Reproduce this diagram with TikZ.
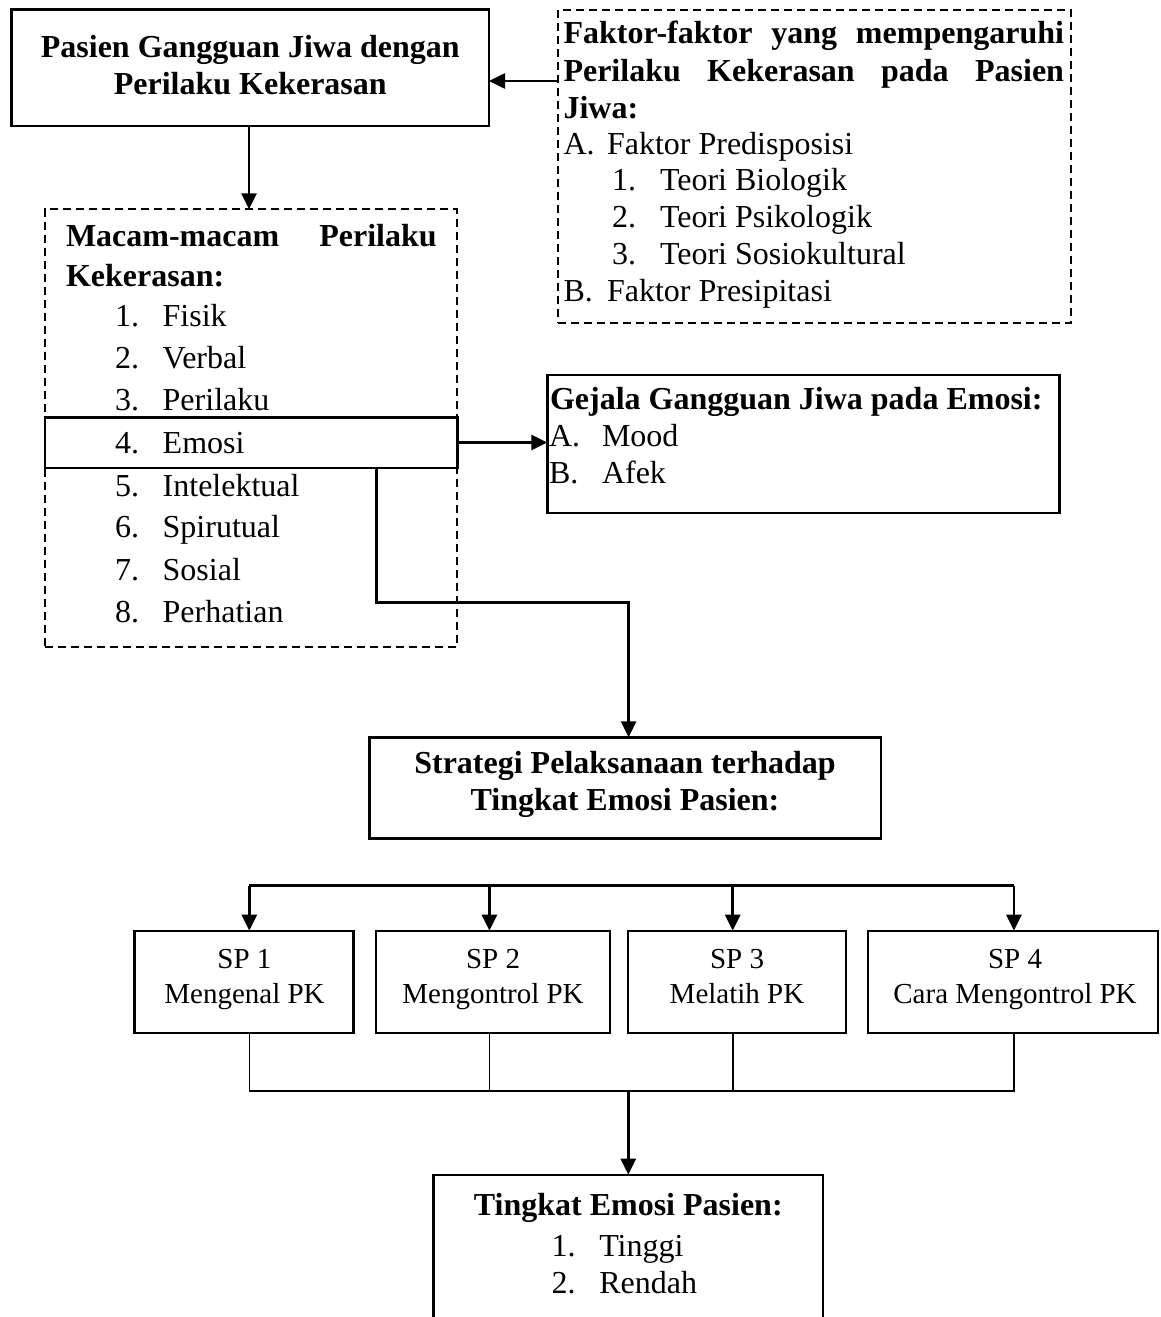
\documentclass[tikz,border=0pt]{standalone}
\usepackage{fontspec}
\setmainfont{Liberation Serif}
\usetikzlibrary{arrows.meta,calc}
\newcommand\mysize{\fontsize{32}{36.8}\selectfont}
\newcommand\spsize{\fontsize{29}{35}\selectfont}
\tikzset{
  every node/.style={inner sep=0pt, outer sep=0pt, font=\mysize},
  solidbox/.style={draw, line width=2.4pt, rectangle},
  dashbox/.style={draw, line width=1.9pt, dash pattern=on 8pt off 5pt, rectangle},
  arr/.style={line width=2.6pt, -{Triangle[length=16pt,width=15pt]}},
  thinline/.style={line width=1.6pt},
  txt/.style={anchor=base west},
  ctxt/.style={anchor=base},
}
\begin{document}
\begin{tikzpicture}[x=1pt,y=-1pt]
\useasboundingbox (0,0) rectangle (1161,1317);
\fill[white] (0,0) rectangle (1161,1317);

% ---------- boxes ----------
\node[solidbox, minimum width=477.5pt, minimum height=116.7pt] (pasien) at (250.25,67.65) {};
\node[dashbox, minimum width=513pt, minimum height=312.7pt] (faktor) at (814.5,166.35) {};
\node[dashbox, minimum width=412pt, minimum height=437.4pt] (macam) at (251,428) {};
\node[solidbox, minimum width=412.3pt, minimum height=50.4pt] (emosi) at (251.15,442.5) {};
\node[solidbox, minimum width=512.2pt, minimum height=137.7pt] (gejala) at (803.4,443.85) {};
\node[solidbox, minimum width=511.7pt, minimum height=101pt] (strategi) at (625.15,787.8) {};
\node[solidbox, minimum width=218.8pt, minimum height=102pt] (sp1) at (244,981.7) {};
\node[solidbox, minimum width=234pt, minimum height=102pt] (sp2) at (493,981.7) {};
\node[solidbox, minimum width=218pt, minimum height=102pt] (sp3) at (737,981.7) {};
\node[solidbox, minimum width=290pt, minimum height=102pt] (sp4) at (1013,981.7) {};
\node[minimum width=389.4pt, minimum height=142.3pt] (tingkat) at (628,1245.85) {};
\draw[line width=2.4pt] (tingkat.south west) -- (tingkat.north west) -- (tingkat.north east) -- (tingkat.south east);

% ---------- texts: pasien ----------
\node[ctxt] (pa1) at (250.25,57) {\bfseries Pasien Gangguan Jiwa dengan};
\node[ctxt] (pa2) at (250.25,94.5) {\bfseries Perilaku Kekerasan};

% ---------- texts: faktor ----------
\node[txt] (fk1) at (563.5,43.3) {\makebox[500.5pt][s]{\bfseries Faktor-faktor yang mempengaruhi}};
\node[txt] (fk2) at (563.5,81) {\makebox[500.5pt][s]{\bfseries Perilaku Kekerasan pada Pasien}};
\node[txt] (fk3) at (563.5,118.3) {\bfseries Jiwa:};
\node[txt] (fkA) at (563.5,154) {A.};
\node[txt] (fkAt) at (607,154) {Faktor Predisposisi};
\node[txt] (fk1n) at (612,190.7) {1.};
\node[txt] (fk1t) at (660,190.7) {Teori Biologik};
\node[txt] (fk2n) at (612,227.5) {2.};
\node[txt] (fk2t) at (660,227.5) {Teori Psikologik};
\node[txt] (fk3n) at (612,264.3) {3.};
\node[txt] (fk3t) at (660,264.3) {Teori Sosiokultural};
\node[txt] (fkB) at (563.5,301) {B.};
\node[txt] (fkBt) at (607,301) {Faktor Presipitasi};

% ---------- texts: macam ----------
\node[txt] (mc1) at (66,246.7) {\makebox[370.7pt][s]{\bfseries Macam-macam Perilaku}};
\node[txt] (mc2) at (66,286) {\bfseries Kekerasan:};
\foreach \n/\t/\y in {1/Fisik/326.7, 2/Verbal/368.3, 3/Perilaku/410.7, 4/Emosi/453.3, 5/Intelektual/496, 6/Spirutual/537.3, 7/Sosial/580.7, 8/Perhatian/622.7}{
  \node[txt] (mn\n) at (115,\y) {\n.};
  \node[txt] (mt\n) at (162.7,\y) {\t};
}

% ---------- texts: gejala ----------
\node[txt] (gj1) at (550,409.3) {\bfseries Gejala Gangguan Jiwa pada Emosi:};
\node[txt] (gjA) at (549,446) {A.};
\node[txt] (gjAt) at (602,446) {Mood};
\node[txt] (gjB) at (549,483.3) {B.};
\node[txt] (gjBt) at (602,483.3) {Afek};

% ---------- texts: strategi ----------
\node[ctxt] (st1) at (625,773.3) {\bfseries Strategi Pelaksanaan terhadap};
\node[ctxt] (st2) at (625,810) {\bfseries Tingkat Emosi Pasien:};

% ---------- texts: SP ----------
\node[ctxt, font=\spsize] (sp1a) at (244.5,968) {SP 1};
\node[ctxt, font=\spsize] (sp1b) at (244.5,1003) {Mengenal PK};
\node[ctxt, font=\spsize] (sp2a) at (493,968) {SP 2};
\node[ctxt, font=\spsize] (sp2b) at (493,1003) {Mengontrol PK};
\node[ctxt, font=\spsize] (sp3a) at (737,968) {SP 3};
\node[ctxt, font=\spsize] (sp3b) at (737,1003) {Melatih PK};
\node[ctxt, font=\spsize] (sp4a) at (1015,968) {SP 4};
\node[ctxt, font=\spsize] (sp4b) at (1015,1003) {Cara Mengontrol PK};

% ---------- texts: tingkat ----------
\node[ctxt] (tk1) at (628.3,1215) {\bfseries Tingkat Emosi Pasien:};
\node[txt] (tk1n) at (551.7,1256) {1.};
\node[txt] (tk1t) at (599.3,1256) {Tinggi};
\node[txt] (tk2n) at (551.7,1293.3) {2.};
\node[txt] (tk2t) at (599.3,1293.3) {Rendah};

% ---------- connectors ----------
\coordinate (fa) at (558,81);
\draw[arr] (fa) -- (fa -| pasien.east);
\coordinate (pm) at (249,126);
\draw[arr] (pm) -- (pm |- macam.north);
\draw[arr] (emosi.east) -- (emosi.east -| gejala.west);
\coordinate (e1) at (376.7,467.7);
\coordinate (c1) at (628.6,602.7);
\draw[arr] (e1) -- (e1 |- c1) -- (c1) -- (c1 |- strategi.north);

% top bus
\coordinate (b1) at (249.3,885.7);
\coordinate (b2) at (489.4,885.7);
\coordinate (b3) at (732.7,885.7);
\coordinate (b4) at (1013.9,885.7);
\draw[line width=2.6pt] (b1) -- (b4);
\draw[arr] (b1) -- (b1 |- sp1.north);
\draw[arr] (b2) -- (b2 |- sp2.north);
\draw[arr] (b3) -- (b3 |- sp3.north);
\draw[arr] (b4) -- (b4 |- sp4.north);

% bottom bus
\coordinate (d1) at (249.3,1090.7);
\coordinate (d2) at (489.4,1090.7);
\coordinate (d3) at (732.7,1090.7);
\coordinate (d4) at (1013.9,1090.7);
\coordinate (dm) at (628.3,1090.7);
\draw[thinline] (d1 |- sp1.south) -- (d1) -- (d4) -- (d4 |- sp4.south);
\draw[thinline] (d2 |- sp2.south) -- (d2);
\draw[thinline] (d3 |- sp3.south) -- (d3);
\draw[arr] (dm) -- (dm |- tingkat.north);
\end{tikzpicture}
\end{document}
